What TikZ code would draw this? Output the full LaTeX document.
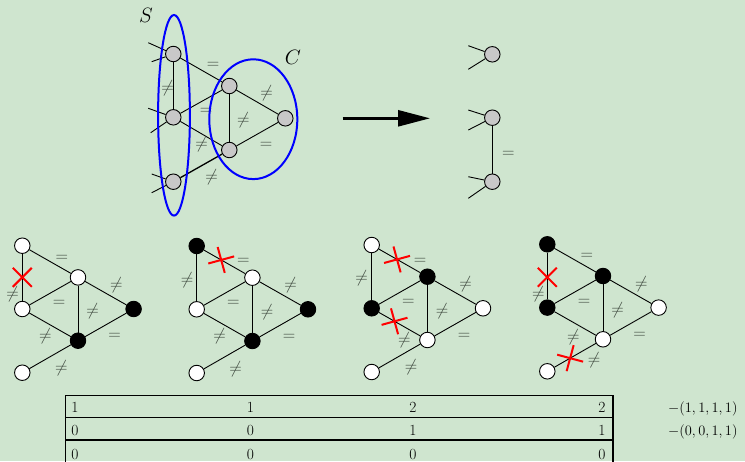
\documentclass[tikz,border=0pt]{standalone}
\usetikzlibrary{arrows.meta,shapes.misc}
\definecolor{bgc}{RGB}{207,229,207}
\definecolor{lblc}{RGB}{60,70,60}
\definecolor{nodegray}{RGB}{200,200,200}
\newcommand\mkgraph[8]{%
\begin{scope}[shift={(#2)}]
\node[#3] (#1A) at (0,0) {};
\node[#4] (#1B) at (55.7,31.7) {};
\node[#5] (#1D) at (0,63.3) {};
\node[#6] (#1E) at (111.3,63.3) {};
\node[#7] (#1F) at (55.7,95) {};
\node[#8] (#1G) at (0,127) {};
\draw[edg] (#1A) -- (#1B);
\draw[edg] (#1A) -- (#1D);
\draw[edg] (#1B) -- (#1D);
\draw[edg] (#1B) -- (#1E);
\draw[edg] (#1B) -- (#1F);
\draw[edg] (#1D) -- (#1F);
\draw[edg] (#1E) -- (#1F);
\draw[edg] (#1F) -- (#1G);
\end{scope}}
\newcommand\mklabels[6]{%
\begin{scope}[shift={(#2)}]
\node[lbl] (#1lab) at (#3) {$=$};
\node[lbl] (#1lad) at (#4) {$\neq$};
\node[lbl] (#1lbd) at (36.7,57.8) {$=$};
\node[lbl] (#1lbe) at (94,39.5) {$\neq$};
\node[lbl] (#1lbf) at (70.4,65.8) {$\neq$};
\node[lbl] (#1ldf) at (#5) {$\neq$};
\node[lbl] (#1lef) at (92.4,91.2) {$=$};
\node[lbl] (#1lfg) at (#6) {$\neq$};
\end{scope}}
\begin{document}
\begin{tikzpicture}[x=1pt,y=-1pt,
  vtx/.style={circle,draw=black,line width=0.9pt,minimum size=15.5pt,inner sep=0pt},
  gv/.style={vtx,fill=nodegray},
  wv/.style={vtx,fill=white},
  bv/.style={vtx,fill=black},
  edg/.style={line width=0.9pt},
  lbl/.style={text=lblc,inner sep=1pt,font=\fontsize{18}{20}\selectfont},
  xmark/.style={cross out,draw=red,line width=2pt,minimum size=17pt,inner sep=0pt,sloped},
  ell/.style={draw=blue,line width=2pt},
  tbl/.style={line width=1.2pt},
  tnum/.style={anchor=base,inner sep=1pt,font=\fontsize{15.5}{18}\selectfont}]
\useasboundingbox[fill=bgc] (0,0) rectangle (745,461);
\clip (0,0) rectangle (745,461);
% ---------- top graph ----------
\node[gv] (s1) at (173.3,54) {};
\node[gv] (s2) at (173.3,117.3) {};
\node[gv] (s3) at (173.3,181.7) {};
\node[gv] (c1) at (229.3,86) {};
\node[gv] (c2) at (285.3,118.3) {};
\node[gv] (c3) at (229.3,150) {};
\coordinate (s1a) at (148.3,42.7);
\coordinate (s1b) at (151.7,61.7);
\coordinate (s2a) at (148.3,108.3);
\coordinate (s2b) at (150.7,132.7);
\coordinate (s3a) at (151.7,174);
\coordinate (s3b) at (151.7,192.7);
\draw[edg] (s1a) -- (s1);
\draw[edg] (s1b) -- (s1);
\draw[edg] (s2a) -- (s2);
\draw[edg] (s2b) -- (s2);
\draw[edg] (s3a) -- (s3);
\draw[edg] (s3b) -- (s3);
\draw[edg] (s1) -- (s2);
\draw[edg] (s1) -- (c1);
\draw[edg] (s2) -- (c1);
\draw[edg] (s2) -- (c3);
\draw[edg,line width=1.3pt] (s3) -- (c3);
\draw[edg] (c1) -- (c3);
\draw[edg] (c1) -- (c2);
\draw[edg] (c3) -- (c2);
\node[lbl] (t1) at (167.7,88.3) {$\neq$};
\node[lbl] (t2) at (213,65.7) {$=$};
\node[lbl] (t3) at (206,111) {$=$};
\node[lbl] (t4) at (201.7,144) {$\neq$};
\node[lbl] (t5) at (211.7,177.3) {$\neq$};
\node[lbl] (t6) at (243.3,120) {$\neq$};
\node[lbl] (t7) at (266.7,93.3) {$\neq$};
\node[lbl] (t8) at (266,145) {$=$};
\draw[ell] (174,115.3) ellipse [x radius=15.9pt, y radius=100.3pt];
\draw[ell] (253.3,119.2) ellipse [x radius=44pt, y radius=59.9pt];
\node[font=\fontsize{22}{24}\selectfont,inner sep=1pt] (lS) at (146,15) {$S$};
\node[font=\fontsize{22}{24}\selectfont,inner sep=1pt] (lC) at (293,57) {$C$};
% ---------- arrow ----------
\coordinate (arrA) at (342.7,118.3);
\coordinate (arrB) at (430,118.3);
\draw[line width=2.6pt,-{Triangle[length=32pt,width=16pt]}] (arrA) -- (arrB);
% ---------- right graph ----------
\node[gv] (r1) at (492.3,54.3) {};
\node[gv] (r2) at (492.3,117.7) {};
\node[gv] (r3) at (492.3,181.7) {};
\coordinate (r1a) at (468.3,45.7);
\coordinate (r1b) at (468.3,69.3);
\coordinate (r2a) at (468.3,110);
\coordinate (r2b) at (468.3,130);
\coordinate (r3a) at (468.3,176.7);
\coordinate (r3b) at (468.3,198.3);
\draw[edg] (r1a) -- (r1);
\draw[edg] (r1b) -- (r1);
\draw[edg] (r2a) -- (r2);
\draw[edg] (r2b) -- (r2);
\draw[edg] (r3a) -- (r3);
\draw[edg] (r3b) -- (r3);
\draw[edg] (r2) -- (r3);
\node[lbl] (rl) at (508.3,154.3) {$=$};
% ---------- bottom graphs ----------
\mkgraph{g1}{22.3,245.7}{wv}{wv}{wv}{bv}{bv}{wv}
\mkgraph{g2}{196.7,246}{bv}{wv}{wv}{bv}{bv}{wv}
\mkgraph{g3}{371.7,245}{wv}{bv}{bv}{wv}{wv}{wv}
\mkgraph{g4}{547.3,244.3}{bv}{bv}{bv}{wv}{wv}{wv}
\mklabels{g1}{22.3,245.7}{39.5,12.5}{-9.6,48.6}{23,90.2}{39,122.8}
\mklabels{g2}{196.7,246}{46.6,15}{-9.5,34}{23,90.2}{39,122.8}
\mklabels{g3}{371.7,245}{48.3,16}{-10.2,33.5}{32.6,95}{39.3,121.7}
\mklabels{g4}{547.3,244.3}{39.5,12.5}{-9,50}{26,93}{46.7,115.7}
\path (g1A.center) -- node[xmark,pos=0.5] (g1x1) {} (g1D.center);
\path (g2A.center) -- node[xmark,pos=0.44] (g2x1) {} (g2B.center);
\path (g3A.center) -- node[xmark,pos=0.455] (g3x1) {} (g3B.center);
\path (g3D.center) -- node[xmark,pos=0.41] (g3x2) {} (g3F.center);
\path (g4A.center) -- node[xmark,pos=0.52] (g4x1) {} (g4D.center);
\path (g4F.center) -- node[xmark,pos=0.59] (g4x2) {} (g4G.center);
% ---------- table ----------
\draw[tbl] (65.7,470) -- (65.7,395.7) -- (613,395.7) -- (613,470);
\draw[tbl] (65.7,417.7) -- (613,417.7);
\draw[tbl] (65.7,440) -- (613,440);
\node[tnum] (a11) at (75,412.5) {1};
\node[tnum] (a12) at (250.5,412.5) {1};
\node[tnum] (a13) at (413,412.5) {2};
\node[tnum] (a14) at (602,412.5) {2};
\node[tnum] (a21) at (75,435.5) {0};
\node[tnum] (a22) at (250.5,435.5) {0};
\node[tnum] (a23) at (413,435.5) {1};
\node[tnum] (a24) at (602,435.5) {1};
\node[tnum] (a31) at (75,459) {0};
\node[tnum] (a32) at (250.5,459) {0};
\node[tnum] (a33) at (413,459) {0};
\node[tnum] (a34) at (602,459) {0};
\node[tnum,anchor=base west] (v1) at (667,412.5) {$-(1,1,1,1)$};
\node[tnum,anchor=base west] (v2) at (667,435.5) {$-(0,0,1,1)$};
\end{tikzpicture}
\end{document}
